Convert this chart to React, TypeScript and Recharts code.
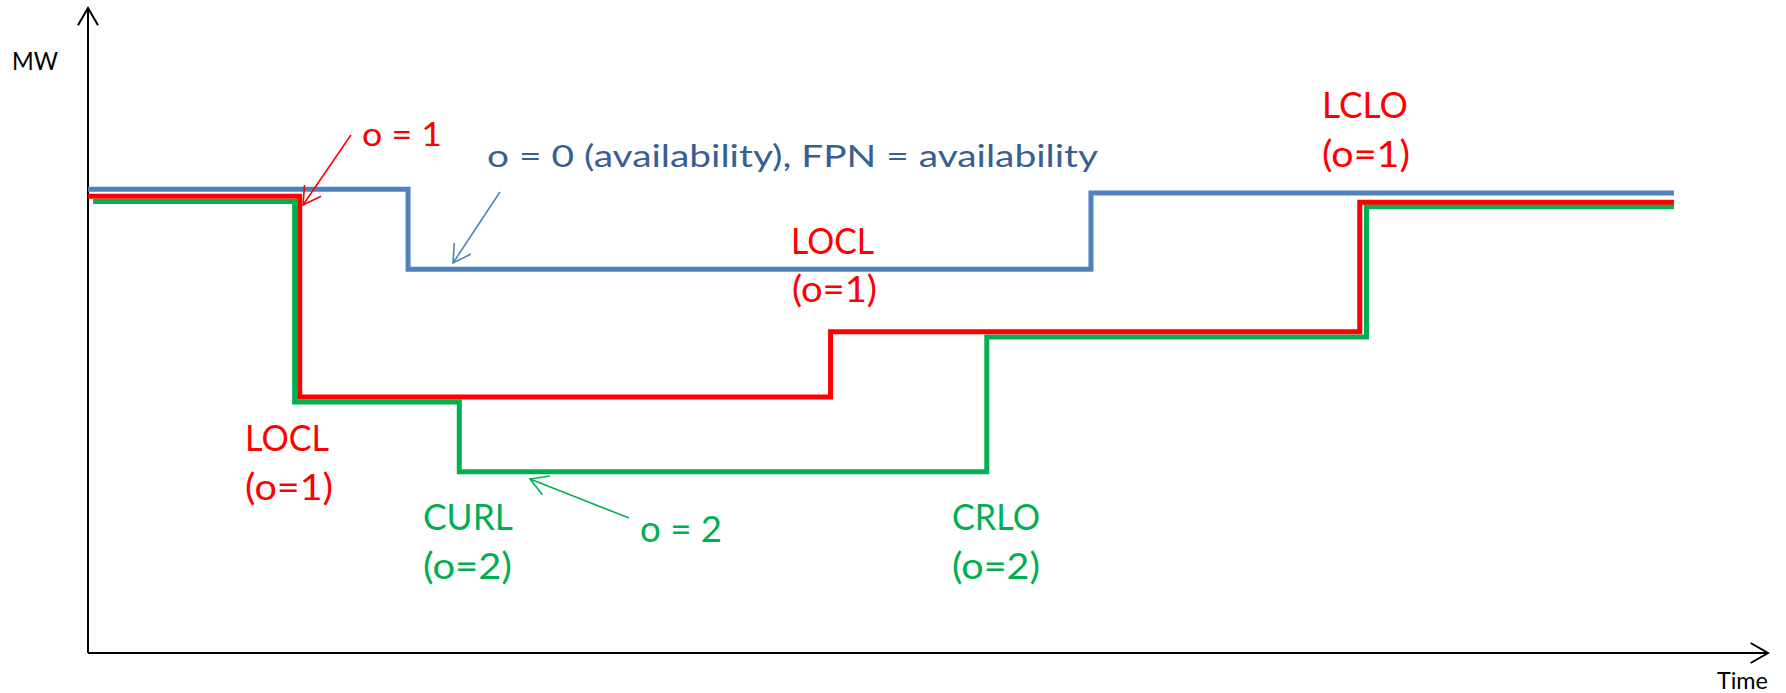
import React from 'react';
import { LineChart, Line, XAxis, YAxis, ReferenceLine, ReferenceDot } from 'recharts';

const W = 1786;
const H = 693;

// Step series: time at which each level starts (t), MW level (v)
const blueTimes = [0, 19.05, 59.7, 94.4];
const blueLevels = [71.9, 59.5, 71.3, 71.3];
const redTimes = [0, 12.6, 44.2, 75.7, 94.4];
const redLevels = [70.8, 39.7, 49.8, 69.9, 69.9];
const greenTimes = [0.3, 12.3, 22.1, 53.5, 76.1, 94.4];
const greenLevels = [70.0, 38.9, 28.1, 49.0, 69.2, 69.2];

const BLUE = '#4F81BD';
const RED = '#FF0000';
const GREEN = '#00B050';
const BLUE_TEXT = '#376092';
const FONT = "Lato, 'Open Sans', sans-serif";

const labelTexts = ['MW', 'o = 1', 'o = 0 (availability), FPN = availability', 'LOCL', '(o=1)', 'LOCL', '(o=1)', 'CURL', '(o=2)', 'o = 2', 'CRLO', '(o=2)', 'LCLO', '(o=1)', 'Time'];
const labelTimes = [-4.52, 16.31, 23.75, 41.85, 41.9, 9.35, 9.35, 19.94, 19.94, 32.86, 51.43, 51.43, 73.45, 73.45, 96.96];
const labelLevels = [90.39, 78.6, 75.35, 61.86, 54.42, 31.32, 23.72, 19.07, 11.47, 17.21, 19.07, 11.47, 82.95, 75.35, -5.58];
const labelColors = ['#000', RED, BLUE_TEXT, RED, RED, RED, RED, GREEN, GREEN, GREEN, GREEN, GREEN, RED, RED, '#000'];
const labelSizes = [25, 32, 30, 36, 36, 36, 36, 36, 36, 36, 36, 36, 36, 36, 24];
const labelWidths = [46, 80, 611, 83, 85, 84, 88, 90, 89, 82, 88, 88, 86, 88, 51];

// annotation arrows: from (t,v) to (t,v)
const arrowFromT = [15.65, 24.52, 32.2];
const arrowFromV = [80.31, 71.47, 20.93];
const arrowToT = [12.8, 21.73, 26.31];
const arrowToV = [69.46, 60.47, 26.98];
const arrowColors = [RED, BLUE, GREEN];

const toData = (times: number[], levels: number[]) => times.map((t, i) => ({ t, v: levels[i] }));

const arrowShape = (color: string, width: number, head: number, angleDeg: number) => (props: any) => {
  const { x1, y1, x2, y2 } = props;
  if ([x1, y1, x2, y2].some((n) => typeof n !== 'number' || isNaN(n))) return <g />;
  const a = Math.atan2(y1 - y2, x1 - x2);
  const d = (angleDeg * Math.PI) / 180;
  const bx1 = x2 + head * Math.cos(a + d);
  const by1 = y2 + head * Math.sin(a + d);
  const bx2 = x2 + head * Math.cos(a - d);
  const by2 = y2 + head * Math.sin(a - d);
  return (
    <g>
      <line x1={x1} y1={y1} x2={x2} y2={y2} stroke={color} strokeWidth={width} />
      <polyline points={`${bx1},${by1} ${x2},${y2} ${bx2},${by2}`} fill="none" stroke={color} strokeWidth={width} />
    </g>
  );
};

const labelShape = (i: number) => (props: any) => {
  const { cx, cy } = props;
  return (
    <text
      x={cx}
      y={cy}
      fill={labelColors[i]}
      fontSize={labelSizes[i]}
      fontFamily={FONT}
      textLength={labelWidths[i]}
      lengthAdjust="spacingAndGlyphs"
    >
      {labelTexts[i]}
    </text>
  );
};

export default function App() {
  const blue = toData(blueTimes, blueLevels);
  const red = toData(redTimes, redLevels);
  const green = toData(greenTimes, greenLevels);
  return (
    <div style={{ position: 'absolute', left: 0, top: 0, width: W, height: H, background: '#fff' }}>
      <LineChart width={W} height={H} margin={{ top: 8, right: 18, bottom: 40, left: 88 }}>
        <XAxis dataKey="t" type="number" domain={[0, 100]} hide allowDataOverflow />
        <YAxis dataKey="v" type="number" domain={[0, 100]} hide allowDataOverflow />
        <ReferenceLine
          segment={[{ x: 0, y: 0 }, { x: 100, y: 0 }]}
          ifOverflow="visible"
          shape={arrowShape('#000', 2, 20, 30)}
        />
        <ReferenceLine
          segment={[{ x: 0, y: 0 }, { x: 0, y: 100 }]}
          ifOverflow="visible"
          shape={arrowShape('#000', 2, 20, 30)}
        />
        <Line data={blue} dataKey="v" type="stepAfter" stroke={BLUE} strokeWidth={5} dot={false} activeDot={false} isAnimationActive={false} strokeLinejoin="miter" strokeLinecap="butt" />
        <Line data={green} dataKey="v" type="stepAfter" stroke={GREEN} strokeWidth={5} dot={false} activeDot={false} isAnimationActive={false} strokeLinejoin="miter" strokeLinecap="butt" />
        <Line data={red} dataKey="v" type="stepAfter" stroke={RED} strokeWidth={5} dot={false} activeDot={false} isAnimationActive={false} strokeLinejoin="miter" strokeLinecap="butt" />
        {arrowFromT.map((t, i) => (
          <ReferenceLine
            key={'a' + i}
            segment={[{ x: t, y: arrowFromV[i] }, { x: arrowToT[i], y: arrowToV[i] }]}
            ifOverflow="visible"
            shape={arrowShape(arrowColors[i], 1.6, 20, 30)}
          />
        ))}
        {labelTexts.map((_, i) => (
          <ReferenceDot
            key={'l' + i}
            x={labelTimes[i]}
            y={labelLevels[i]}
            r={0}
            ifOverflow="visible"
            shape={labelShape(i)}
          />
        ))}
      </LineChart>
    </div>
  );
}
